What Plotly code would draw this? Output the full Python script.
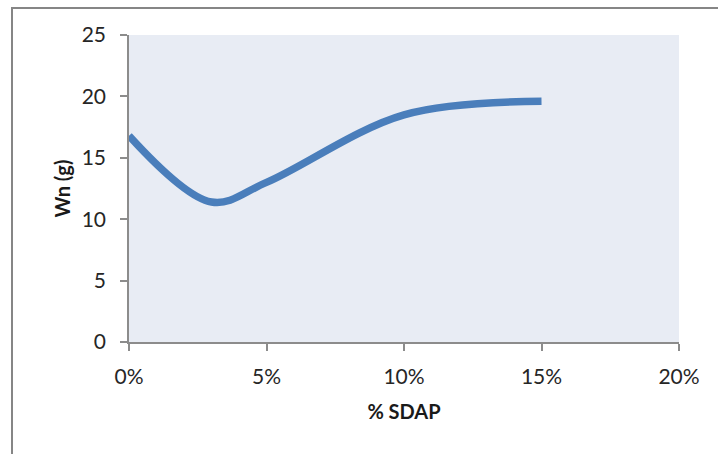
import plotly.graph_objects as go

# % SDAP (as fractions) and weight Wn in grams
sdap = [0.0, 0.03, 0.05, 0.10, 0.15]
wn_g = [16.8, 11.4, 13.0, 18.5, 19.6]

x_ticks = [0.0, 0.05, 0.10, 0.15, 0.20]
x_tick_labels = ["0%", "5%", "10%", "15%", "20%"]
y_ticks = [0, 5, 10, 15, 20, 25]

W, H = 718, 454
L, R, T, B = 129, 39, 35, 112
pw, ph = W - L - R, H - T - B

fig = go.Figure()
fig.add_trace(go.Scatter(
    x=sdap, y=wn_g, mode="lines",
    line=dict(color="#4A7EBB", width=7.5, shape="spline", smoothing=1.0),
    showlegend=False, hoverinfo="skip",
))

axis_col = "#8C8C8C"
font_family = "Lato, Open Sans, sans-serif"

fig.update_layout(
    width=W, height=H,
    margin=dict(l=L, r=R, t=T, b=B),
    paper_bgcolor="white",
    plot_bgcolor="#E8ECF4",
    font=dict(family=font_family, color="#1a1a1a"),
    xaxis=dict(
        range=[0, 0.20], tickvals=x_ticks, ticktext=x_tick_labels,
        showgrid=False, zeroline=False,
        showline=True, linecolor=axis_col, linewidth=1.5,
        ticks="outside", ticklen=7, tickcolor=axis_col, tickwidth=1.5,
        tickfont=dict(size=21, color="#262626"),
        ticklabelstandoff=8,
        title=dict(text="<b>% SDAP</b>", font=dict(size=20, color="#1a1a1a"), standoff=18),
    ),
    yaxis=dict(
        range=[0, 25], tickvals=y_ticks,
        showgrid=False, zeroline=False,
        showline=True, linecolor=axis_col, linewidth=1.5,
        ticks="outside", ticklen=7, tickcolor=axis_col, tickwidth=1.5,
        tickfont=dict(size=21, color="#262626"),
        ticklabelstandoff=10,
        title=dict(text="<b>Wn (g)</b>", font=dict(size=20, color="#1a1a1a"), standoff=6),
    ),
)

# Outer chart frame (open on the right and bottom edges of the page)
def px_to_paper_x(px):
    return (px - L) / pw

def px_to_paper_y(py):
    return (H - B - py) / ph

fig.add_shape(
    type="rect", xref="paper", yref="paper",
    x0=px_to_paper_x(12), x1=px_to_paper_x(W + 20),
    y0=px_to_paper_y(H + 20), y1=px_to_paper_y(8),
    line=dict(color="#868686", width=2), fillcolor="rgba(0,0,0,0)",
    layer="below",
)

fig.write_html("out.html")
